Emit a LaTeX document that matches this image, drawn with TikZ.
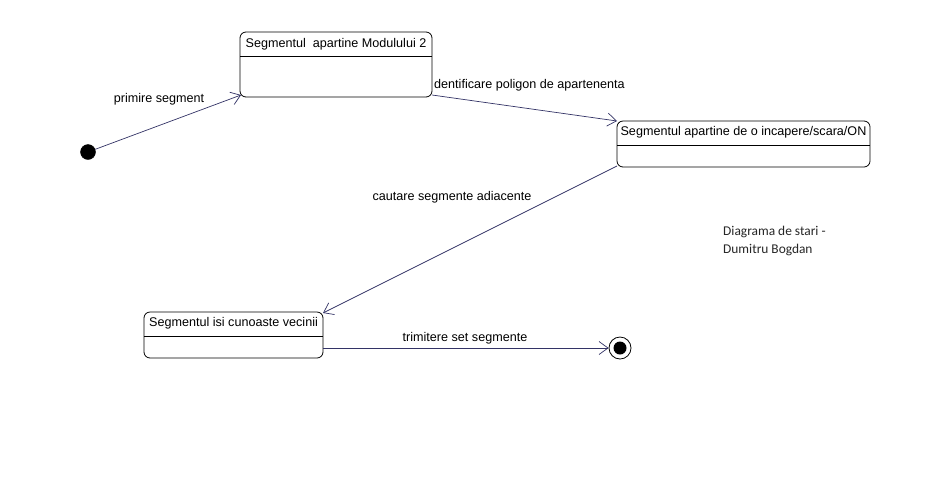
\documentclass[tikz,border=0pt]{standalone}
\usepackage{fontspec}
\setmainfont{Liberation Sans}
\newfontfamily\notefont{Carlito}
\usetikzlibrary{arrows.meta}
\definecolor{linec}{RGB}{51,51,102}
\tikzset{
  statebox/.style={draw=black, line width=0.8pt, rounded corners=6pt, fill=white, inner sep=0pt},
  titletext/.style={font=\fontsize{12.6}{14}\selectfont, inner sep=0pt, anchor=center},
  lbl/.style={font=\fontsize{12.6}{14}\selectfont, inner sep=0pt},
  trans/.style={draw=linec, line width=0.7pt, -{Straight Barb[length=9pt,width=13pt,line width=0.7pt]}},
  divider/.style={draw=black, line width=0.8pt},
}
\begin{document}
\begin{tikzpicture}[x=1pt,y=-1pt]
\useasboundingbox[fill=white] (0,0) rectangle (949,488);
% states
\node[statebox, minimum width=192pt, minimum height=65pt] (s1) at (336,64.5) {};
\node[titletext] (t1) at (336,44) {Segmentul\ \ apartine Modulului 2};
\draw[divider] (240,56) -- (432,56);
\node[statebox, minimum width=253pt, minimum height=46pt] (s2) at (743.5,144) {};
\node[titletext] (t2) at (743.5,132) {Segmentul apartine de o incapere/scara/ON};
\draw[divider] (617,145) -- (870,145);
\node[statebox, minimum width=179pt, minimum height=46pt] (s3) at (233.5,335) {};
\node[titletext] (t3) at (233.5,323) {Segmentul isi cunoaste vecinii};
\draw[divider] (144,336) -- (323,336);
% pseudo states
\node[circle, fill=black, draw=black, minimum size=15pt, inner sep=0pt] (init) at (88,152) {};
\node[circle, draw=black, fill=white, line width=0.8pt, minimum size=22pt, inner sep=0pt] (fin) at (620,348) {};
\node[circle, fill=black, minimum size=13pt, inner sep=0pt] (finin) at (620,348) {};
% transitions
\coordinate (s1a) at (241,95);
\coordinate (s1b) at (432,95);
\coordinate (s2a) at (617,121);
\coordinate (s2b) at (617,166);
\coordinate (s3a) at (323,313);
\coordinate (s3b) at (323,348);
\draw[trans] (init) -- (s1a);
\draw[trans] (s1b) -- (s2a);
\draw[trans] (s2b) -- (s3a);
\draw[trans] (s3b) -- (fin);
% labels
\node[lbl] (l1) at (159,99) {primire segment};
\node[lbl, anchor=west] (l2) at (434,85) {dentificare poligon de apartenenta};
\node[lbl] (l3) at (452,197) {cautare segmente adiacente};
\node[lbl] (l4) at (465,338) {trimitere set segmente};
\node[font=\notefont\fontsize{13.4}{18}\selectfont, align=left, anchor=north west, inner sep=0pt, text=black!85] (note) at (723,226) {Diagrama de stari -\\Dumitru Bogdan};
\end{tikzpicture}
\end{document}
